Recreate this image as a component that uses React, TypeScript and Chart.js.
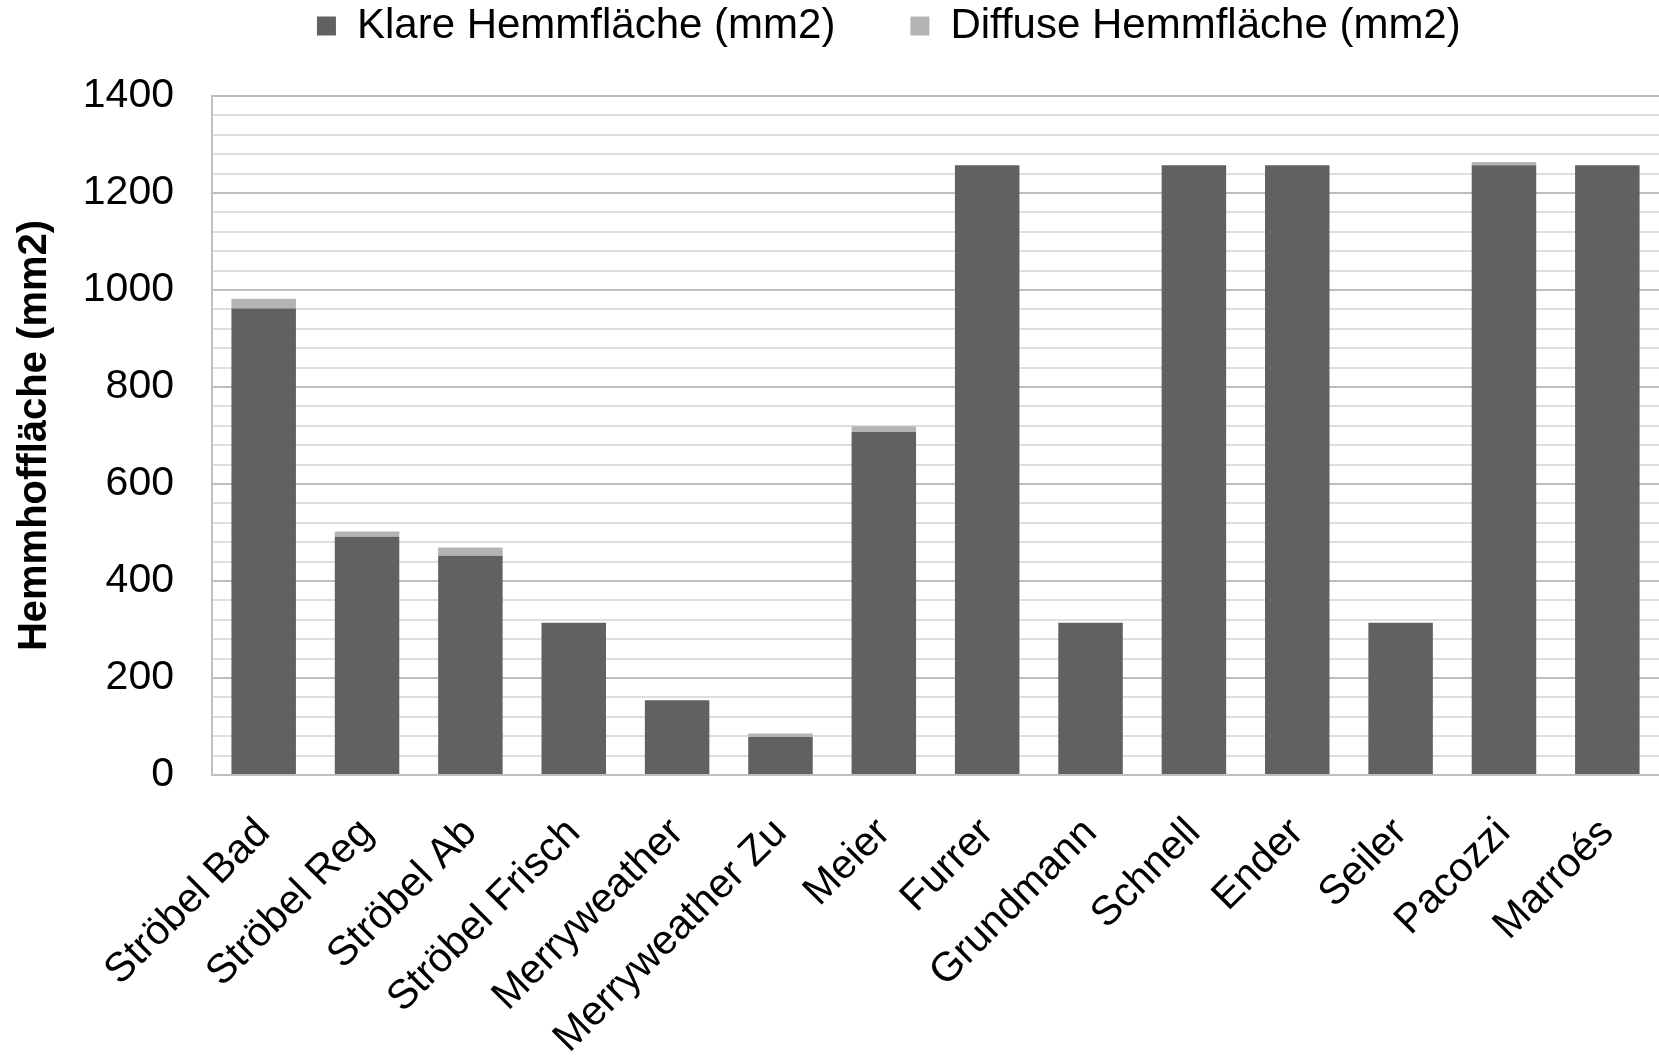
import React, { useEffect, useRef } from "react";
import { Chart, registerables } from "chart.js";

Chart.register(...registerables);

const categories = [
  "Ströbel Bad",
  "Ströbel Reg",
  "Ströbel Ab",
  "Ströbel Frisch",
  "Merryweather",
  "Merryweather Zu",
  "Meier",
  "Furrer",
  "Grundmann",
  "Schnell",
  "Ender",
  "Seiler",
  "Pacozzi",
  "Marroés",
];

const klareValues = [962, 491, 452, 314, 154, 78.5, 707, 1257, 314, 1257, 1257, 314, 1257, 1257];
const diffuseValues = [20, 11, 17, 0, 0, 7, 12, 0, 0, 0, 0, 0, 7, 0];

const seriesNames = ["Klare Hemmfläche (mm2)", "Diffuse Hemmfläche (mm2)"];
const yTitle = "Hemmhoffläche (mm2)";
const yMin = 0;
const yMax = 1400;
const yMinorStep = 40;
const yMajorStep = 200;

const W = 1659;
const H = 1057;
const FONT = "'Liberation Sans', Arial, sans-serif";

export default function App() {
  const ref = useRef<HTMLCanvasElement | null>(null);

  useEffect(() => {
    if (!ref.current) return;
    const chart = new Chart(ref.current, {
      type: "bar",
      data: {
        labels: categories,
        datasets: [
          {
            label: seriesNames[0],
            data: klareValues,
            backgroundColor: "#616161",
            borderWidth: 0,
            barPercentage: 0.624,
            categoryPercentage: 1,
          },
          {
            label: seriesNames[1],
            data: diffuseValues,
            backgroundColor: "#b4b4b4",
            borderWidth: 0,
            barPercentage: 0.624,
            categoryPercentage: 1,
          },
        ],
      },
      options: {
        responsive: false,
        animation: false,
        maintainAspectRatio: false,
        layout: { padding: { top: 0, right: 0, bottom: 0, left: 0 } },
        plugins: {
          tooltip: { enabled: false },
          title: {
            display: true,
            text: "",
            weight: 2000,
            font: { size: 10 },
            padding: { top: 0, bottom: 27 },
          },
          legend: {
            display: true,
            position: "top",
            fullSize: false,
            weight: 3000,
            labels: {
              color: "#000",
              font: { family: FONT, size: 42 },
              boxWidth: 19,
              boxHeight: 19,
              padding: 5,
              generateLabels: (c: any) => {
                const items = (Chart as any).defaults.plugins.legend.labels.generateLabels(c);
                if (items[0]) items[0].text = items[0].text + "      ";
                if (items[1]) items[1].text = items[1].text + "        ";
                return items;
              },
            },
          },
        },
        scales: {
          x: {
            stacked: true,
            grid: { display: false },
            border: { display: true, color: "#bfbfbf", width: 2 },
            ticks: {
              color: "#000",
              font: { family: FONT, size: 41 },
              minRotation: 45,
              maxRotation: 45,
              padding: 26,
              autoSkip: false,
            },
            afterFit: (scale: any) => {
              scale.height = H - 775;
              scale.paddingRight = 0;
              scale.paddingLeft = 0;
            },
          },
          y: {
            stacked: true,
            min: yMin,
            max: yMax,
            grid: {
              color: (ctx: any) =>
                ctx.tick && ctx.tick.value % yMajorStep === 0 ? "#bdbdbd" : "#dedede",
              lineWidth: 2,
              drawTicks: false,
            },
            border: { display: true, color: "#bfbfbf", width: 2 },
            ticks: {
              stepSize: yMinorStep,
              color: "#000",
              font: { family: FONT, size: 41 },
              padding: 38,
              autoSkip: false,
              callback: (v: any) => (Number(v) % yMajorStep === 0 ? String(v) : ""),
            },
            title: {
              display: true,
              text: yTitle,
              color: "#000",
              font: { family: FONT, size: 40, weight: "bold" },
              padding: { top: 11, bottom: 0 },
            },
            afterFit: (scale: any) => {
              scale.width = 212;
            },
          },
        },
      },
    });
    return () => chart.destroy();
  }, []);

  return (
    <div style={{ position: "absolute", left: 0, top: 0, width: W, height: H, background: "#fff" }}>
      <canvas ref={ref} width={W} height={H} style={{ width: W, height: H, display: "block" }} />
    </div>
  );
}
